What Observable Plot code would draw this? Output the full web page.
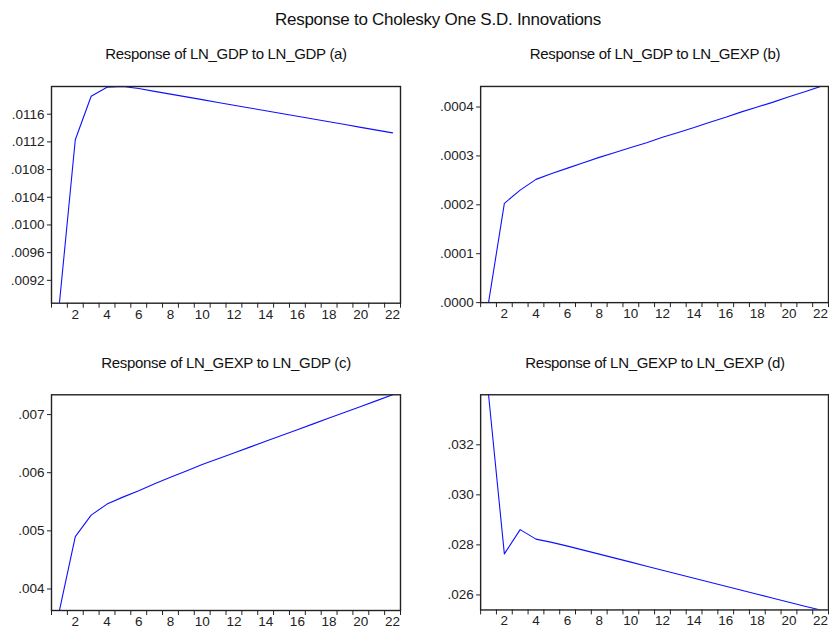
<!DOCTYPE html>
<html>
<head>
<meta charset="utf-8">
<script src="https://cdn.jsdelivr.net/npm/d3@7"></script>
<script src="https://cdn.jsdelivr.net/npm/@observablehq/plot@0.6"></script>
<style>
  html, body { margin: 0; padding: 0; background: #fff; overflow: hidden; }
  #wrap { position: relative; width: 829px; height: 627px; overflow: hidden; font-family: "Liberation Sans", Arial, sans-serif; color: #111; }
  .ttl { position: absolute; white-space: nowrap; transform: translateX(-50%); line-height: 1; }
  .panel { position: absolute; }
  .panel svg { overflow: visible; }
</style>
</head>
<body>
<div id="wrap"></div>
<script>
const periods = d3.range(1, 23);
const mainTitle = "Response to Cholesky One S.D. Innovations";
const titles = [
  "Response of LN_GDP to LN_GDP (a)",
  "Response of LN_GDP to LN_GEXP (b)",
  "Response of LN_GEXP to LN_GDP (c)",
  "Response of LN_GEXP to LN_GEXP (d)"
];
const respA = [0.00887, 0.01123, 0.01186, 0.01199, 0.01200, 0.01197, 0.01193, 0.01189, 0.01185, 0.01181, 0.01177,
               0.01173, 0.01169, 0.01165, 0.01161, 0.01157, 0.01153, 0.01149, 0.01145, 0.01141, 0.01137, 0.01133];
const respB = [0.000000, 0.000203, 0.000230, 0.000252, 0.000264, 0.000275, 0.000286, 0.000297, 0.000307, 0.000317, 0.000327,
               0.000338, 0.000348, 0.000358, 0.000369, 0.000379, 0.000390, 0.000400, 0.000410, 0.000421, 0.000431, 0.000442];
const respC = [0.00363, 0.00490, 0.00527, 0.00546, 0.00558, 0.00569, 0.00581, 0.00592, 0.00603, 0.00614, 0.00624,
               0.00634, 0.00644, 0.00654, 0.00664, 0.00674, 0.00684, 0.00694, 0.00704, 0.00714, 0.00724, 0.00734];
const respD = [0.03400, 0.02764, 0.02861, 0.02823, 0.02810, 0.02795, 0.02779, 0.02763, 0.02747, 0.02731, 0.02715,
               0.02699, 0.02683, 0.02667, 0.02651, 0.02635, 0.02619, 0.02603, 0.02587, 0.02571, 0.02555, 0.02540];
const ticksA = [0.0092, 0.0096, 0.0100, 0.0104, 0.0108, 0.0112, 0.0116];
const ticksB = [0.0000, 0.0001, 0.0002, 0.0003, 0.0004];
const ticksC = [0.004, 0.005, 0.006, 0.007];
const ticksD = [0.026, 0.028, 0.030, 0.032];
const xLabelTicks = d3.range(2, 23, 2);
const xMinorTicks = d3.range(0.5, 23, 1);

const wrap = document.getElementById("wrap");

function addTitle(text, cx, top, size, ls) {
  const d = document.createElement("div");
  d.className = "ttl";
  d.textContent = text;
  d.style.left = cx + "px";
  d.style.top = top + "px";
  d.style.fontSize = size + "px";
  d.style.letterSpacing = ls + "px";
  wrap.appendChild(d);
}

function panel(values, ticks, digits, left, top, opts) {
  const fmt = d => d3.format("." + digits + "f")(d).replace(/^0\./, ".").replace(/^-0\./, "-.");
  const data = periods.map((p, i) => ({period: p, value: values[i]}));
  const chart = Plot.plot({
    width: opts.width,
    height: opts.height,
    marginLeft: opts.marginLeft,
    marginRight: opts.marginRight,
    marginTop: opts.marginTop,
    marginBottom: opts.marginBottom,
    x: {domain: [0.5, 22.5], axis: null},
    y: {domain: d3.extent(values), axis: null},
    style: {fontFamily: "'Liberation Sans', Arial, sans-serif", fontSize: "13.5px", color: "#222", background: "transparent"},
    marks: [
      Plot.axisX({ticks: xMinorTicks, tickSize: 5, tickFormat: () => "", stroke: "#222", label: null}),
      Plot.axisX({ticks: xLabelTicks, tickSize: 0, tickPadding: 6, tickFormat: d => String(d), fill: "#222", label: null}),
      Plot.axisY({ticks: ticks, tickSize: 4, tickPadding: 3, tickFormat: fmt, stroke: "#222", fill: "#222", label: null}),
      Plot.line(data, {x: "period", y: "value", stroke: "#1010ff", strokeWidth: 1.1, clip: true}),
      Plot.frame({stroke: "#222", strokeWidth: 1.4})
    ]
  });
  const div = document.createElement("div");
  div.className = "panel";
  div.style.left = left + "px";
  div.style.top = top + "px";
  div.appendChild(chart);
  wrap.appendChild(div);
}

addTitle(mainTitle, 438, 11, 17, -0.25);
addTitle(titles[0], 226, 46, 15, -0.3);
addTitle(titles[1], 655, 46, 15, -0.3);
addTitle(titles[2], 226, 355, 15, -0.3);
addTitle(titles[3], 655, 355, 15, -0.3);

const topOpts = {width: 420, height: 257, marginLeft: 51, marginRight: 20, marginTop: 16, marginBottom: 24.3};
const botOpts = {width: 420, height: 249, marginLeft: 51, marginRight: 20, marginTop: 16.3, marginBottom: 17};
const topOptsR = {width: 420, height: 257, marginLeft: 70.3, marginRight: 1, marginTop: 16, marginBottom: 24.3};
const botOptsR = {width: 420, height: 249, marginLeft: 70.3, marginRight: 1, marginTop: 16.3, marginBottom: 17};

panel(respA, ticksA, 4, 0, 70, topOpts);
panel(respB, ticksB, 4, 410, 70, topOptsR);
panel(respC, ticksC, 3, 0, 378, botOpts);
panel(respD, ticksD, 3, 410, 378, botOptsR);
</script>
</body>
</html>
